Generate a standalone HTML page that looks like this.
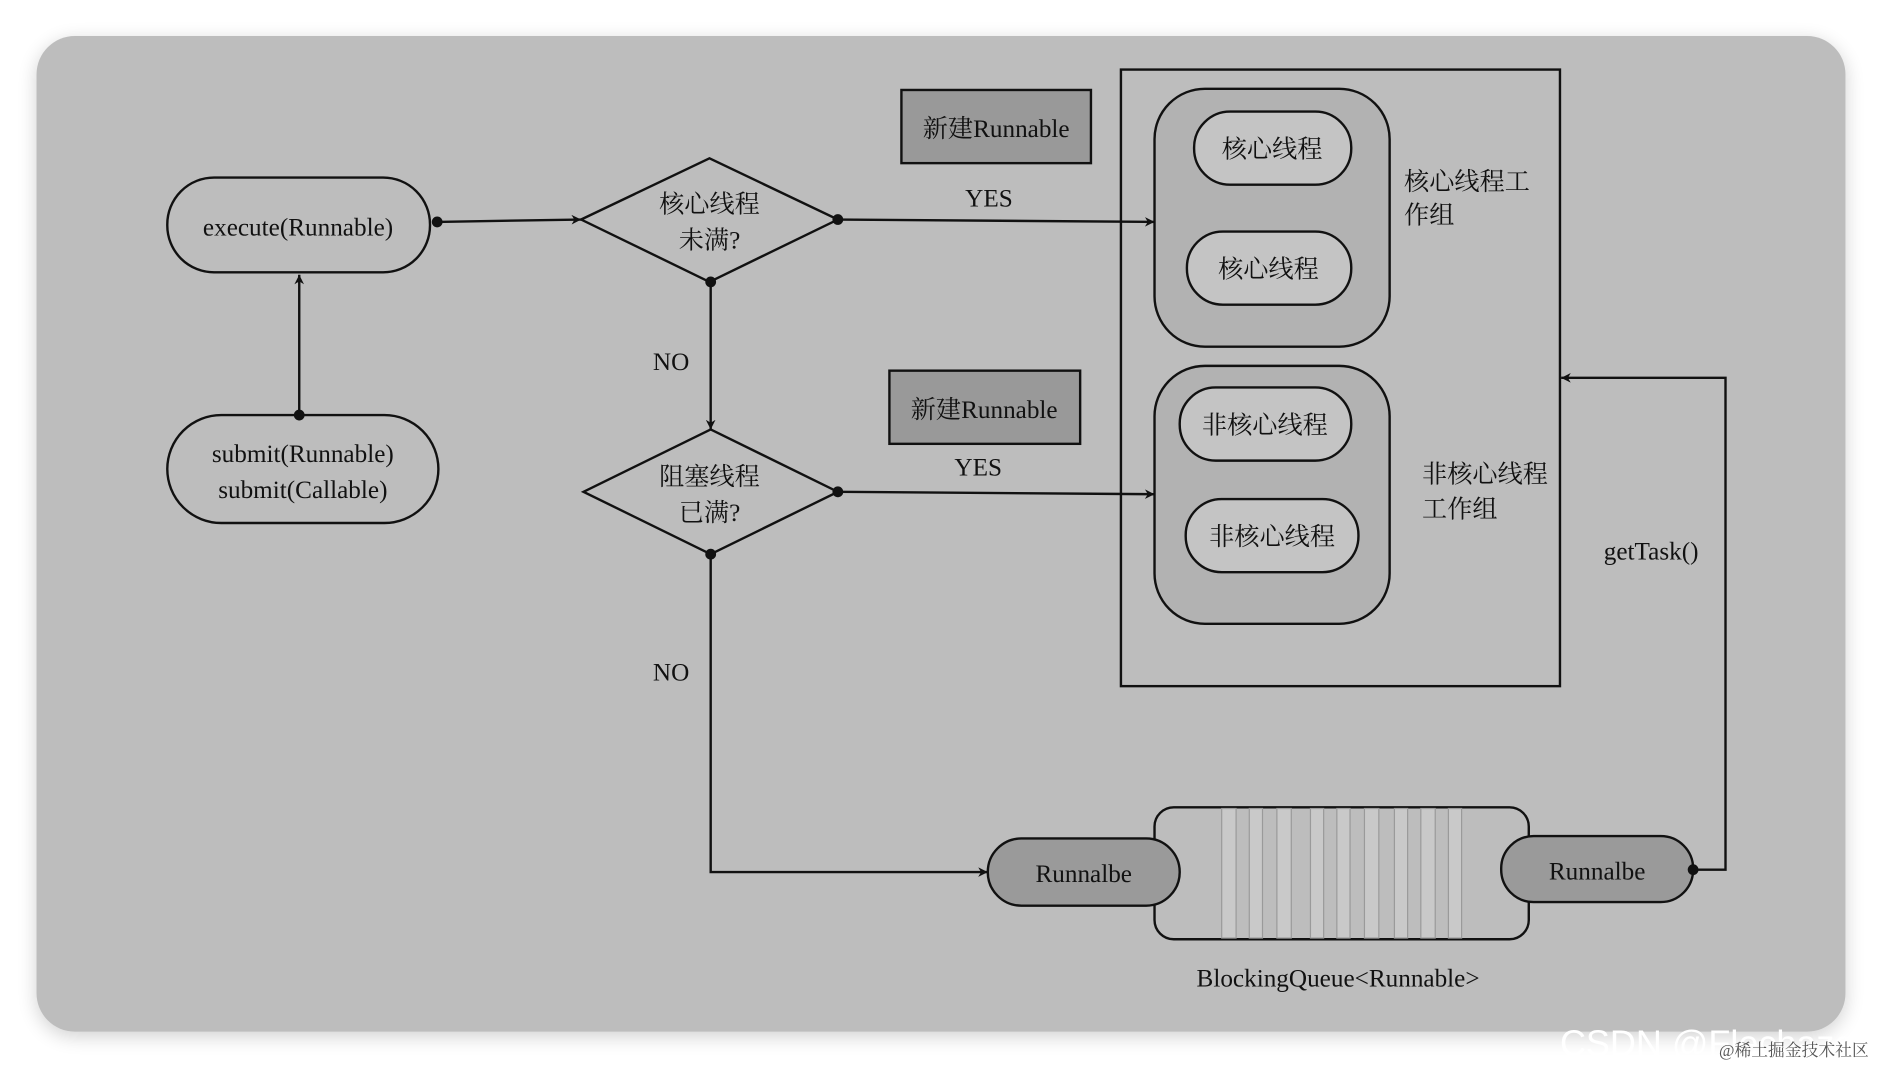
<!DOCTYPE html>
<html><head><meta charset="utf-8"><style>
html,body{margin:0;padding:0;background:#fff;width:1882px;height:1070px;overflow:hidden}
svg{display:block}
text{font-family:"Liberation Serif","Noto Serif CJK SC",serif;fill:#111;text-anchor:middle;dominant-baseline:middle}
</style></head><body>
<svg width="1882" height="1070" viewBox="0 0 1568 892" xmlns="http://www.w3.org/2000/svg">
<defs>
<marker id="a" viewBox="0 0 10 10" refX="10" refY="5" markerWidth="8" markerHeight="8" orient="auto" markerUnits="userSpaceOnUse"><path d="M0,0 L10,5 L0,10 L3,5 z" fill="#111"/></marker>
<filter id="sh" x="-5%" y="-5%" width="110%" height="110%"><feGaussianBlur stdDeviation="8"/></filter>
</defs>
<rect x="30" y="34" width="1508" height="830" rx="32" fill="#000" opacity="0.18" filter="url(#sh)"/>
<rect x="30" y="30" width="1508" height="830" rx="32" fill="#bdbdbd"/>
<g stroke="#111" stroke-width="2" fill="none">
<rect x="139" y="148" width="219" height="79" rx="39" fill="#bdbdbd"/>
<rect x="139" y="346" width="226" height="90" rx="45" fill="#bdbdbd"/>
<line x1="249" y1="346" x2="249" y2="229" marker-end="url(#a)"/>
<line x1="364" y1="185" x2="484" y2="183" marker-end="url(#a)"/>
<polygon points="484,183 591,132 698,183 591,235" fill="#bdbdbd"/>
<line x1="698" y1="183" x2="962" y2="185" marker-end="url(#a)"/>
<rect x="751" y="75" width="158" height="61" fill="#999"/>
<line x1="592" y1="235" x2="592" y2="358" marker-end="url(#a)"/>
<polygon points="486,410 592,358 698,410 592,462" fill="#bdbdbd"/>
<line x1="698" y1="410" x2="962" y2="412" marker-end="url(#a)"/>
<rect x="741" y="309" width="159" height="61" fill="#999"/>
<polyline points="592,462 592,727 823,727" marker-end="url(#a)"/>
<rect x="934" y="58" width="366" height="514"/>
<rect x="962" y="74" width="196" height="215" rx="42" fill="#b2b2b2"/>
<rect x="995" y="93" width="131" height="61" rx="30" fill="#c4c4c4"/>
<rect x="989" y="193" width="137" height="61" rx="30" fill="#c4c4c4"/>
<rect x="962" y="305" width="196" height="215" rx="42" fill="#b2b2b2"/>
<rect x="983" y="323" width="143" height="61" rx="30" fill="#c4c4c4"/>
<rect x="988" y="416" width="144" height="61" rx="30" fill="#c4c4c4"/>
<polyline points="1411,725 1438,725 1438,315 1301,315" marker-end="url(#a)"/>
<rect x="962" y="673" width="312" height="110" rx="16" fill="#bdbdbd"/>
</g>
<g fill="#c9c9c9" stroke="#9a9a9a" stroke-width="1">
<rect x="1018" y="674" width="12" height="108"/><rect x="1041" y="674" width="11" height="108"/>
<rect x="1064" y="674" width="12" height="108"/><rect x="1092" y="674" width="11" height="108"/>
<rect x="1114" y="674" width="11" height="108"/><rect x="1137" y="674" width="12" height="108"/>
<rect x="1162" y="674" width="11" height="108"/><rect x="1184" y="674" width="12" height="108"/>
<rect x="1207" y="674" width="11" height="108"/>
</g>
<g stroke="#111" stroke-width="2">
<rect x="823" y="699" width="160" height="56" rx="28" fill="#9a9a9a"/>
<rect x="1251" y="697" width="160" height="55" rx="27" fill="#9a9a9a"/>
</g>
<g fill="#111">
<circle cx="249" cy="346" r="4.5"/><circle cx="364" cy="185" r="4.5"/>
<circle cx="698" cy="183" r="4.5"/><circle cx="592" cy="235" r="4.5"/>
<circle cx="698" cy="410" r="4.5"/><circle cx="592" cy="462" r="4.5"/>
<circle cx="1411" cy="725" r="4.5"/>
</g>
<g font-size="21" transform="translate(0,2.5)">
<text x="248" y="189">execute(Runnable)</text>
<text x="252" y="378">submit(Runnable)</text>
<text x="252" y="408">submit(Callable)</text>
<text x="591" y="170">核心线程</text>
<text x="591" y="200">未满?</text>
<text x="591" y="397">阻塞线程</text>
<text x="591" y="427">已满?</text>
<text x="830" y="107">新建Runnable</text>
<text x="820" y="341">新建Runnable</text>
<text x="824" y="165">YES</text>
<text x="815" y="389">YES</text>
<text x="559" y="301">NO</text>
<text x="559" y="560">NO</text>
<text x="1060" y="124">核心线程</text>
<text x="1057" y="224">核心线程</text>
<text x="1054" y="354">非核心线程</text>
<text x="1060" y="447">非核心线程</text>
<text x="1170" y="151" style="text-anchor:start">核心线程工</text>
<text x="1170" y="179" style="text-anchor:start">作组</text>
<text x="1185" y="395" style="text-anchor:start">非核心线程</text>
<text x="1185" y="424" style="text-anchor:start">工作组</text>
<text x="1376" y="459">getTask()</text>
<text x="903" y="728">Runnalbe</text>
<text x="1331" y="726">Runnalbe</text>
<text x="1115" y="815">BlockingQueue&lt;Runnable&gt;</text>
</g>
<text x="1300" y="872" font-size="30" style="fill:#fff;font-family:'Liberation Sans',sans-serif;text-anchor:start">CSDN @Flechazo</text>
<text x="1495" y="877" font-size="14" style="fill:#555">@稀土掘金技术社区</text>
</svg>
</body></html>
